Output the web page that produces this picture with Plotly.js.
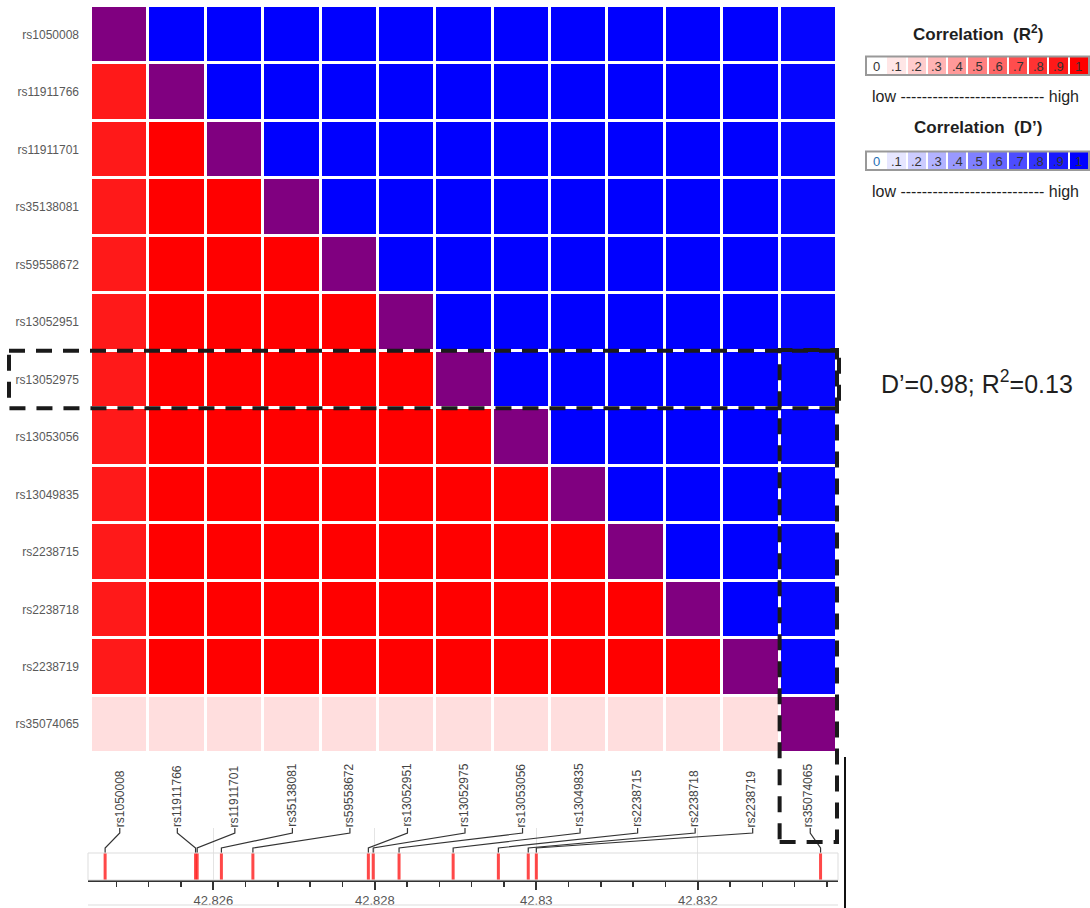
<!DOCTYPE html>
<html><head><meta charset="utf-8">
<script src="https://cdn.plot.ly/plotly-3.0.1.min.js"></script>
<style>html,body{margin:0;padding:0;background:#fff}#chart{width:1090px;height:908px}</style>
</head><body><div id="chart"></div>
<script>
// ---------- DATA ----------
const snps = ['rs1050008','rs11911766','rs11911701','rs35138081','rs59558672','rs13052951',
  'rs13052975','rs13053056','rs13049835','rs2238715','rs2238718','rs2238719','rs35074065'];
// genomic positions (Mb)
const positionsMb = [42.82466, 42.82578, 42.82580, 42.82610, 42.82649, 42.82792,
  42.82798, 42.82830, 42.82897, 42.82953, 42.82990, 42.83000, 42.83352];
// R^2, lower triangle: row i (i = 1..12) holds columns 0..i-1
const r2Lower = [
  [0.9],
  [0.9, 1],
  [0.9, 1, 1],
  [0.9, 1, 1, 1],
  [0.9, 1, 1, 1, 1],
  [0.9, 1, 1, 1, 1, 1],
  [0.9, 1, 1, 1, 1, 1, 1],
  [0.9, 1, 1, 1, 1, 1, 1, 1],
  [0.9, 1, 1, 1, 1, 1, 1, 1, 1],
  [0.9, 1, 1, 1, 1, 1, 1, 1, 1, 1],
  [0.9, 1, 1, 1, 1, 1, 1, 1, 1, 1, 1],
  [0.13, 0.13, 0.13, 0.13, 0.13, 0.13, 0.13, 0.13, 0.13, 0.13, 0.13, 0.13]
];
// D', upper triangle: row i (i = 0..11) holds columns i+1..12
const dprimeUpper = [
  [1, 1, 1, 1, 1, 1, 1, 1, 1, 1, 1, 0.98],
  [1, 1, 1, 1, 1, 1, 1, 1, 1, 1, 0.98],
  [1, 1, 1, 1, 1, 1, 1, 1, 1, 0.98],
  [1, 1, 1, 1, 1, 1, 1, 1, 0.98],
  [1, 1, 1, 1, 1, 1, 1, 0.98],
  [1, 1, 1, 1, 1, 1, 0.98],
  [1, 1, 1, 1, 1, 0.98],
  [1, 1, 1, 1, 0.98],
  [1, 1, 1, 0.98],
  [1, 1, 0.98],
  [1, 0.98],
  [0.98]
];
const legendValues = [0, 0.1, 0.2, 0.3, 0.4, 0.5, 0.6, 0.7, 0.8, 0.9, 1];
const legendLabels = ['0', '.1', '.2', '.3', '.4', '.5', '.6', '.7', '.8', '.9', '1'];
const genomicTicks = [42.826, 42.828, 42.830, 42.832];

// ---------- LAYOUT HELPERS ----------
const W = 1090, H = 908;
const px = v => v / W, py = v => 1 - v / H;
const FONT = 'Liberation Sans, Arial, sans-serif';
const n = snps.length;
const hm = {x0: 91, x1: 839, y0: 6, y1: 753};
const tr = {x0: 88, x1: 838, y0: 853, y1: 880};
const gRange = [42.824448, 42.833736];

const redScale = [[0, '#ffffff'], [1, '#ff0000']];
const blueScale = [[0, '#ffffff'], [1, '#0000ff']];
const purpleScale = [[0, '#800080'], [1, '#800080']];

const zR2 = [], zD = [], zDiag = [];
for (let i = 0; i < n; i++) {
  const a = [], b = [], c = [];
  for (let j = 0; j < n; j++) {
    a.push(j < i ? r2Lower[i - 1][j] : null);
    b.push(j > i ? dprimeUpper[i][j - i - 1] : null);
    c.push(i === j ? 1 : null);
  }
  zR2.push(a); zD.push(b); zDiag.push(c);
}

const hmCommon = {type: 'heatmap', x: snps, y: snps, zmin: 0, zmax: 1, showscale: false,
  xgap: 3, ygap: 3, hoverinfo: 'skip', xaxis: 'x', yaxis: 'y'};
const traces = [
  Object.assign({}, hmCommon, {z: zR2, colorscale: redScale}),
  Object.assign({}, hmCommon, {z: zD, colorscale: blueScale}),
  Object.assign({}, hmCommon, {z: zDiag, colorscale: purpleScale})
];

// SNP marks on the genomic track
const mx = [], my = [];
positionsMb.forEach(p => { mx.push(p, p, null); my.push(0, 1, null); });
traces.push({type: 'scatter', mode: 'lines', x: mx, y: my, xaxis: 'x2', yaxis: 'y2',
  line: {color: 'rgba(255,40,40,0.85)', width: 3}, hoverinfo: 'skip', showlegend: false});

// connectors from label (column centre) to genomic position
const labelG = i => {
  const cpx = hm.x0 + (i + 0.5) * (hm.x1 - hm.x0) / n;
  return gRange[0] + (cpx - tr.x0) / (tr.x1 - tr.x0) * (gRange[1] - gRange[0]);
};
const cx = [], cy = [];
positionsMb.forEach((p, i) => { const g = labelG(i); cx.push(g, g, p, p, null); cy.push(1, 0.8, 0.2, 0, null); });
traces.push({type: 'scatter', mode: 'lines', x: cx, y: cy, xaxis: 'x2', yaxis: 'y3',
  line: {color: '#333', width: 1.2}, hoverinfo: 'skip', showlegend: false});

// legend bars
const legCommon = {type: 'heatmap', x: legendLabels, zmin: 0, zmax: 1, showscale: false,
  xgap: 2, ygap: 0, hoverinfo: 'skip'};
traces.push(Object.assign({}, legCommon, {y: ['r2'], z: [legendValues], colorscale: redScale, xaxis: 'x4', yaxis: 'y4'}));
traces.push(Object.assign({}, legCommon, {y: ['d'], z: [legendValues], colorscale: blueScale, xaxis: 'x5', yaxis: 'y5'}));

const hidden = {showticklabels: false, showgrid: false, zeroline: false, showline: false, ticks: ''};

const annotations = snps.map((s, i) => ({
  x: i, xref: 'x', y: py(829), yref: 'paper', yanchor: 'bottom', xanchor: 'center',
  text: s, textangle: -90, showarrow: false, font: {family: FONT, size: 12, color: '#444'}
}));
legendLabels.forEach((lab, i) => {
  annotations.push({x: i, xref: 'x4', y: 'r2', yref: 'y4', text: lab, showarrow: false,
    xanchor: 'center', yanchor: 'middle', font: {family: FONT, size: 13, color: '#333'}});
  annotations.push({x: i, xref: 'x5', y: 'd', yref: 'y5', text: lab, showarrow: false,
    xanchor: 'center', yanchor: 'middle', font: {family: FONT, size: 13, color: i === 0 ? '#1f6fb5' : '#333'}});
});
const paperText = (x, y, text, size) => ({x: px(x), y: py(y), xref: 'paper', yref: 'paper',
  xanchor: 'center', yanchor: 'middle', text: text, showarrow: false,
  font: {family: FONT, size: size, color: '#1f1f1f'}});
annotations.push(
  paperText(976.5, 381.5, 'D’=0.98; R<sup>2</sup>=0.13', 25),
  paperText(977.5, 33, '<b>Correlation  (R<sup>2</sup>)</b>', 17),
  paperText(977.5, 128, '<b>Correlation  (D’)</b>', 17),
  paperText(975.5, 96, 'low --------------------------- high', 16),
  paperText(975.5, 191, 'low --------------------------- high', 16)
);

const dashLine = {color: '#1a1a1a', width: 4, dash: '16px,11px'};
const shapes = [
  // highlighted row
  {type: 'rect', xref: 'paper', yref: 'y', x0: px(9), x1: px(hm.x1), y0: 5.5, y1: 6.5, line: dashLine},
  // highlighted column
  {type: 'rect', xref: 'x', yref: 'paper', x0: 11.5, x1: 12.5, y0: py(842), y1: py(350), line: dashLine},
  // track box
  {type: 'rect', xref: 'paper', yref: 'paper', x0: px(tr.x0), x1: px(tr.x1), y0: py(tr.y1), y1: py(tr.y0),
   line: {color: '#dddddd', width: 1}},
  // legend borders
  {type: 'rect', xref: 'paper', yref: 'paper', x0: px(866), x1: px(1089), y0: py(75), y1: py(56.5),
   line: {color: '#999', width: 2}},
  {type: 'rect', xref: 'paper', yref: 'paper', x0: px(866), x1: px(1089), y0: py(170), y1: py(151.5),
   line: {color: '#999', width: 2}},
  // right black rule and bottom grey line
  {type: 'line', xref: 'paper', yref: 'paper', x0: px(845), x1: px(845), y0: py(757), y1: 0,
   line: {color: '#111', width: 2}},
  {type: 'line', xref: 'paper', yref: 'paper', x0: px(88), x1: px(838), y0: py(905), y1: py(905),
   line: {color: '#dddddd', width: 1}}
];

const layout = {
  width: W, height: H, margin: {l: 0, r: 0, t: 0, b: 0},
  paper_bgcolor: '#fff', plot_bgcolor: 'rgba(0,0,0,0)', showlegend: false,
  font: {family: FONT},
  xaxis: Object.assign({}, hidden, {domain: [px(hm.x0), px(hm.x1)], anchor: 'y', type: 'category'}),
  yaxis: {domain: [py(hm.y1), py(hm.y0)], anchor: 'x', type: 'category', autorange: 'reversed',
    showgrid: false, zeroline: false, showline: false, ticks: '', ticklabelstandoff: 11,
    tickfont: {family: FONT, size: 12, color: '#595959'}},
  xaxis2: {domain: [px(tr.x0), px(tr.x1)], anchor: 'y2', range: gRange,
    tickvals: genomicTicks, ticks: 'outside', ticklen: 8, tickwidth: 2, tickcolor: '#333',
    showline: true, linecolor: '#333', linewidth: 1.5, showgrid: true, gridcolor: '#e4e4e4',
    zeroline: false, tickfont: {family: FONT, size: 13, color: '#555'},
    minor: {dtick: 0.0004, tick0: 42.826, ticks: 'outside', ticklen: 5, tickwidth: 1.5, tickcolor: '#333', showgrid: false}},
  yaxis2: Object.assign({}, hidden, {domain: [py(tr.y1), py(tr.y0)], anchor: 'x2', range: [0, 1]}),
  yaxis3: Object.assign({}, hidden, {domain: [py(tr.y0), py(828)], anchor: 'x2', range: [0, 1]}),
  xaxis4: Object.assign({}, hidden, {domain: [px(866), px(1089)], anchor: 'y4', type: 'category'}),
  yaxis4: Object.assign({}, hidden, {domain: [py(75), py(56.5)], anchor: 'x4', type: 'category'}),
  xaxis5: Object.assign({}, hidden, {domain: [px(866), px(1089)], anchor: 'y5', type: 'category'}),
  yaxis5: Object.assign({}, hidden, {domain: [py(170), py(151.5)], anchor: 'x5', type: 'category'}),
  annotations: annotations,
  shapes: shapes
};

Plotly.newPlot('chart', traces, layout, {displayModeBar: false, staticPlot: true});
</script>
</body></html>
